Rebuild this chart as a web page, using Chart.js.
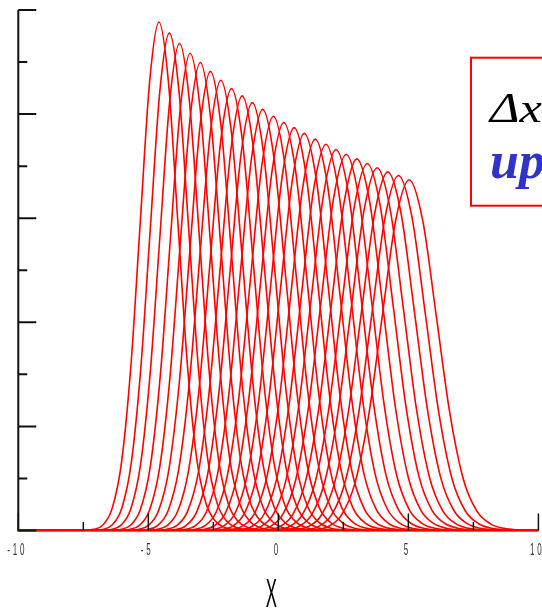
<!DOCTYPE html>
<html>
<head>
<meta charset="utf-8">
<script src="https://cdn.jsdelivr.net/npm/chart.js@4"></script>
<style>
  html, body { margin: 0; padding: 0; background: #fff; }
  canvas { display: block; }
</style>
</head>
<body>
<canvas id="waveChart" width="542" height="610"></canvas>
<script>
// peak position, peak height and half-width of each profile, left to right
const centers = [-4.59, -4.19, -3.80, -3.39, -3.00, -2.61, -2.21, -1.80, -1.39, -1.00,
                 -0.60, -0.19, 0.21, 0.61, 1.00, 1.42, 1.83, 2.22, 2.61, 3.02,
                 3.42, 3.80, 4.21, 4.62, 5.03];
const peaks = [0.977, 0.956, 0.936, 0.917, 0.899, 0.882, 0.865, 0.849, 0.835, 0.822,
               0.809, 0.796, 0.784, 0.774, 0.763, 0.752, 0.742, 0.732, 0.723, 0.714,
               0.705, 0.697, 0.689, 0.682, 0.674];
const widths = [0.719, 0.734, 0.750, 0.766, 0.781, 0.796, 0.812, 0.827, 0.841, 0.854,
                0.868, 0.882, 0.895, 0.907, 0.920, 0.934, 0.946, 0.959, 0.971, 0.983,
                0.996, 1.007, 1.019, 1.029, 1.042];

// bump shape: offsets in half-widths and height relative to the peak
const offsets = [-4.5, -4, -3.5, -3, -2.5, -2, -1.5, -1, -0.5, 0,
                 0.5, 1, 1.5, 2, 2.5, 3, 3.5, 4, 4.5, 5];
const profile = [0, 0.0004, 0.0022, 0.011, 0.044, 0.135, 0.325, 0.607, 0.883, 1,
                 0.884, 0.612, 0.335, 0.146, 0.055, 0.019, 0.006, 0.0017, 0.0004, 0];

const xMin = -10, xMax = 10;
const xMajor = [-10, -5, 0, 5, 10];
const xMinor = [-7.5, -2.5, 2.5, 7.5];
const yMajor = [0, 0.2, 0.4, 0.6, 0.8, 1.0];
const yMinor = [0.1, 0.3, 0.5, 0.7, 0.9];

const datasets = centers.map((c, i) => {
  const pts = [{ x: xMin, y: 0 }];
  offsets.forEach((o, k) => pts.push({ x: c + o * widths[i], y: peaks[i] * profile[k] }));
  pts.push({ x: xMax, y: 0 });
  return {
    data: pts,
    borderColor: "#ff0000",
    borderWidth: 1.6,
    pointRadius: 0,
    fill: false,
    cubicInterpolationMode: "monotone"
  };
});

// narrow, letter-spaced text centred on x, squeezed horizontally by sx
function narrowText(ctx, text, x, y, size, sx, spacing, color) {
  ctx.save();
  ctx.translate(x, y);
  ctx.scale(sx, 1);
  ctx.font = size + 'px "Liberation Sans", Arial, sans-serif';
  ctx.fillStyle = color;
  ctx.textAlign = "left";
  ctx.textBaseline = "alphabetic";
  const chars = text.split("");
  const ws = chars.map(ch => ctx.measureText(ch).width);
  const total = ws.reduce((s, w) => s + w, 0) + spacing * (chars.length - 1);
  let cx = -total / 2;
  chars.forEach((ch, k) => { ctx.fillText(ch, cx, 0); cx += ws[k] + spacing; });
  ctx.restore();
}

const frame = {
  id: "frame",
  beforeDatasetsDraw(chart) {
    const { ctx, chartArea: a } = chart;
    ctx.save();
    ctx.strokeStyle = "#111";
    ctx.lineWidth = 2;
    ctx.beginPath();
    ctx.moveTo(a.left, a.top);
    ctx.lineTo(a.left, a.bottom);
    ctx.lineTo(a.right, a.bottom);
    ctx.stroke();
    ctx.restore();
  },
  afterDatasetsDraw(chart) {
    const { ctx, chartArea: a, scales: { x, y } } = chart;
    ctx.save();
    ctx.strokeStyle = "#111";

    // y ticks point into the plot
    ctx.lineWidth = 2;
    ctx.beginPath();
    yMajor.forEach(v => { const py = y.getPixelForValue(v); ctx.moveTo(a.left, py); ctx.lineTo(a.left + 18, py); });
    yMinor.forEach(v => { const py = y.getPixelForValue(v); ctx.moveTo(a.left, py); ctx.lineTo(a.left + 9, py); });
    ctx.stroke();

    // x ticks
    ctx.lineWidth = 1.5;
    ctx.beginPath();
    xMajor.forEach(v => { const px = x.getPixelForValue(v); ctx.moveTo(px, a.bottom); ctx.lineTo(px, a.bottom - 17); });
    xMinor.forEach(v => { const px = x.getPixelForValue(v); ctx.moveTo(px, a.bottom); ctx.lineTo(px, a.bottom - 8.5); });
    ctx.stroke();
    ctx.restore();

    xMajor.forEach(v => {
      narrowText(ctx, String(v), x.getPixelForValue(v) - 2.5, a.bottom + 24, 16, 0.5, 5.7, "#333");
    });
    narrowText(ctx, "X", (a.left + a.right) / 2 - 7, a.bottom + 76, 40, 0.42, 0, "#000");

    // scheme note
    ctx.save();
    ctx.fillStyle = "#fff";
    ctx.fillRect(471, 57.7, 120, 148);
    ctx.strokeStyle = "#ff0000";
    ctx.lineWidth = 2;
    ctx.strokeRect(471, 57.7, 120, 148);
    ctx.textAlign = "left";
    ctx.textBaseline = "alphabetic";
    ctx.fillStyle = "#000";
    ctx.save();
    ctx.translate(490, 121.5);
    ctx.scale(1.2, 1);
    ctx.font = 'italic 42px "Liberation Serif", "Times New Roman", serif';
    ctx.fillText("Δx", 0, 0);
    ctx.restore();
    ctx.fillStyle = "#3232c8";
    ctx.font = 'italic bold 52px "Liberation Serif", "Times New Roman", serif';
    ctx.fillText("upwind", 490, 178);
    ctx.restore();
  }
};

new Chart(document.getElementById("waveChart").getContext("2d"), {
  type: "line",
  data: { datasets },
  options: {
    responsive: false,
    animation: false,
    devicePixelRatio: 1,
    layout: { padding: { left: 18.3, right: 3.6, top: 10, bottom: 79.5 } },
    plugins: { legend: { display: false }, tooltip: { enabled: false } },
    scales: {
      x: { type: "linear", min: xMin, max: xMax, display: false },
      y: { type: "linear", min: 0, max: 1, display: false }
    }
  },
  plugins: [frame]
});
</script>
</body>
</html>
